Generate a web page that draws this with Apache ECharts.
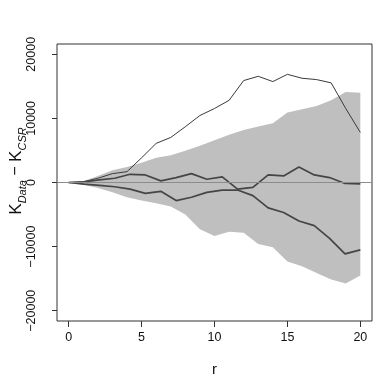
<!DOCTYPE html>
<html>
<head>
    <meta charset="utf-8">
    <title>K envelope</title>
    <script src="https://cdn.jsdelivr.net/npm/echarts@6/dist/echarts.min.js"></script>
    <style>
        html, body { margin: 0; padding: 0; background: #fff; }
        #container { width: 382px; height: 382px; }
    </style>
</head>
<body>
<div id="container"></div>
<script type="text/javascript">
    // r grid for the envelope and the upper curve (21 points)
    var rInt = [0, 1, 2, 3, 4, 5, 6, 7, 8, 9, 10, 11, 12, 13, 14, 15, 16, 17, 18, 19, 20];
    // r grid for the two darker curves (20 points)
    var rMid = [0, 1.05, 2.11, 3.16, 4.21, 5.26, 6.32, 7.37, 8.42, 9.47, 10.53, 11.58, 12.63, 13.68, 14.74, 15.79, 16.84, 17.89, 18.95, 20];

    var bandHi = [0, 200, 1030, 1900, 2410, 3080, 3850, 4260, 4970, 5750, 6600, 7430, 8200, 8720, 9230, 10920, 11430, 11950, 12820, 14100, 14000];
    var bandLo = [0, -360, -870, -1540, -2310, -2820, -3230, -3740, -5000, -7300, -8350, -7690, -7850, -9590, -10100, -12310, -13080, -14100, -15130, -15740, -14500];
    var upper = [0, 100, 660, 1380, 1690, 3850, 6100, 7030, 8700, 10450, 11540, 12820, 15900, 16560, 15740, 16870, 16260, 16050, 15540, 11540, 7800];
    var middle = [0, 100, 400, 660, 1280, 1180, 260, 770, 1380, 510, 870, -1030, -770, 1200, 1030, 2410, 1180, 770, -150, -200];
    var lower = [0, -260, -460, -660, -1030, -1690, -1380, -2820, -2300, -1540, -1180, -1180, -2050, -3950, -4670, -6000, -6720, -8720, -11130, -10500];

    var xTicks = [0, 5, 10, 15, 20];
    var yTicks = [-20000, -10000, 0, 10000, 20000];

    function pairs(xs, ys) {
        var out = [];
        for (var i = 0; i < xs.length; i++) out.push([xs[i], ys[i]]);
        return out;
    }

    var font = '"Liberation Sans", Arial, sans-serif';
    var dom = document.getElementById("container");
    var myChart = echarts.init(dom, null, {renderer: 'canvas'});

    var option = {
        animation: false,
        backgroundColor: '#fff',
        grid: {
            left: 57, right: 10, top: 44, bottom: 57,
            show: true,
            borderColor: '#333',
            borderWidth: 1,
            backgroundColor: 'transparent'
        },
        graphic: [{
            type: 'text',
            x: 16,
            y: 171,
            rotation: Math.PI / 2,
            style: {
                text: '{k|K}{s|Data}{m| − }{k|K}{s|CSR}',
                align: 'center',
                verticalAlign: 'middle',
                fill: '#111',
                rich: {
                    k: {fontSize: 17, fontFamily: font, lineHeight: 25, verticalAlign: 'middle'},
                    s: {fontSize: 11, fontFamily: font, fontStyle: 'italic', lineHeight: 25, verticalAlign: 'bottom'},
                    m: {fontSize: 16, fontFamily: font, lineHeight: 25, verticalAlign: 'middle'}
                }
            }
        }],
        xAxis: {
            type: 'value',
            min: -0.8,
            max: 20.8,
            name: 'r',
            nameLocation: 'middle',
            nameGap: 41,
            nameTextStyle: {fontSize: 15, fontFamily: font, color: '#111'},
            axisLine: {show: false, onZero: false},
            axisTick: {show: true, inside: false, length: 6, customValues: xTicks, lineStyle: {color: '#333'}},
            axisLabel: {
                customValues: xTicks,
                margin: 10,
                fontSize: 12.5,
                fontFamily: font,
                color: '#111'
            },
            splitLine: {show: false}
        },
        yAxis: {
            type: 'value',
            min: -21600,
            max: 21600,
            axisLine: {show: false, onZero: false},
            axisTick: {show: true, inside: false, length: 5, customValues: yTicks, lineStyle: {color: '#333'}},
            axisLabel: {
                customValues: yTicks,
                rotate: 90,
                margin: 19,
                fontSize: 12.5,
                fontFamily: font,
                color: '#111',
                formatter: function (v) {
                    return String(v).replace('-', '−');
                }
            },
            splitLine: {show: false}
        },
        series: [
            {
                // simulation envelope
                type: 'custom',
                z: 1,
                silent: true,
                data: [0],
                renderItem: function (params, api) {
                    var pts = [];
                    for (var i = 0; i < rInt.length; i++) pts.push(api.coord([rInt[i], bandHi[i]]));
                    for (var j = rInt.length - 1; j >= 0; j--) pts.push(api.coord([rInt[j], bandLo[j]]));
                    return {
                        type: 'polygon',
                        shape: {points: pts},
                        style: {fill: '#bfbfbf', stroke: null}
                    };
                }
            },
            {
                type: 'line',
                z: 2,
                data: pairs(rInt, upper),
                symbol: 'none',
                lineStyle: {color: '#3a3a3a', width: 1},
                markLine: {
                    silent: true,
                    symbol: 'none',
                    label: {show: false},
                    lineStyle: {color: '#8c8c8c', width: 1, type: 'solid'},
                    data: [{yAxis: 0}]
                }
            },
            {
                type: 'line',
                z: 3,
                data: pairs(rMid, middle),
                symbol: 'none',
                lineStyle: {color: '#454545', width: 1.7}
            },
            {
                type: 'line',
                z: 3,
                data: pairs(rMid, lower),
                symbol: 'none',
                lineStyle: {color: '#454545', width: 1.7}
            }
        ]
    };

    myChart.setOption(option, true);
</script>
</body>
</html>
